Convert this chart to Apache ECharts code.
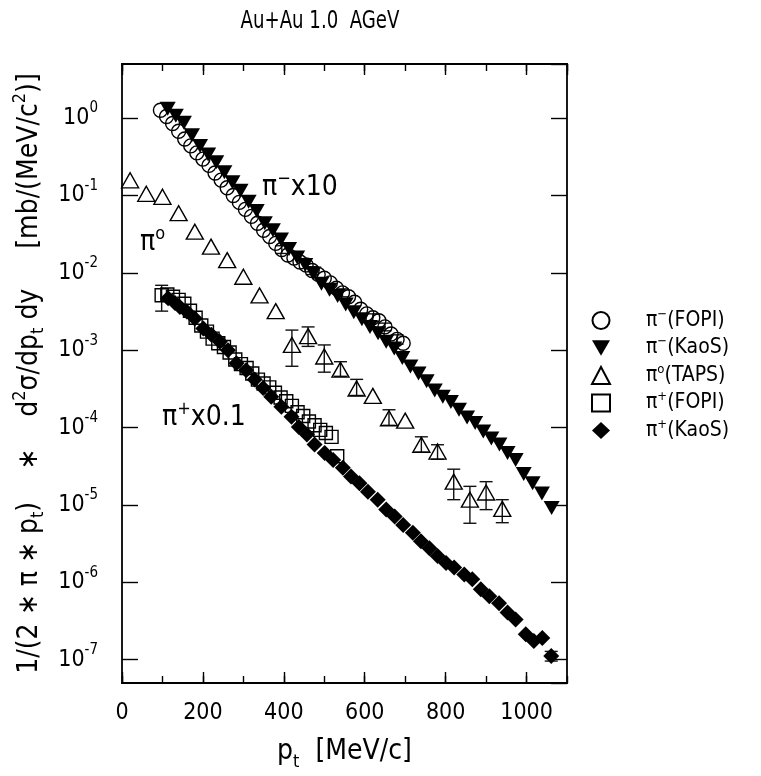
<!DOCTYPE html>
<html><head><meta charset="utf-8">
<script src="https://cdn.jsdelivr.net/npm/echarts@6/dist/echarts.min.js"></script>
<style>html,body{margin:0;padding:0;background:#fff}#c{width:761px;height:776px}</style>
</head><body><div id="c"></div>
<script>
const FONT = "'Liberation Sans Narrow','DejaVu Sans Condensed','Liberation Sans',sans-serif";

// ---- data (pt in MeV/c, yield) ----
const piMinusFopiX = [95,110,125,140,155,170,185,200,215,230,245,260,275,290,305,320,335,350,365,380,395,410,425,440,455,470,485,500,515,530,545,560,575,590,605,620,635,650,665,680,695];
const piMinusFopiY = [1.26,1.05,0.851,0.676,0.537,0.437,0.355,0.295,0.245,0.195,0.158,0.126,0.100,0.0813,0.0661,0.0537,0.0437,0.0355,0.0295,0.0240,0.0200,0.0170,0.0155,0.0138,0.0126,0.0107,0.00955,0.00851,0.00741,0.00631,0.00550,0.00490,0.00417,0.00339,0.00295,0.00263,0.00240,0.00200,0.00162,0.00138,0.00123];
const piMinusFopiErrX = [395,470,545,620,650,680];
const piMinusFopiErrLo = [0.0178,0.0095,0.0049,0.00234,0.00178,0.00120];
const piMinusFopiErrHi = [0.0224,0.0120,0.0062,0.00295,0.00224,0.00158];

const piMinusKaosX = [113,133,153,173,193,213,233,253,273,293,313,333,353,373,393,413,433,453,473,493,513,533,553,573,593,613,633,653,673,693,713,733,753,773,793,813,833,853,873,893,913,933,953,973,993,1015,1038,1062];
const piMinusKaosY = [1.32,1.07,0.87,0.60,0.437,0.339,0.269,0.200,0.148,0.115,0.0832,0.0631,0.0437,0.0355,0.0269,0.0204,0.0158,0.0126,0.00977,0.00724,0.00603,0.00501,0.00389,0.00309,0.00251,0.00200,0.00166,0.00129,0.00105,7.94e-4,6.17e-4,5.01e-4,3.98e-4,3.02e-4,2.51e-4,2.14e-4,1.70e-4,1.35e-4,1.15e-4,8.91e-5,7.24e-5,6.03e-5,4.68e-5,3.80e-5,2.51e-5,1.91e-5,1.41e-5,9.12e-6];

const pi0TapsX = [20,60,100,140,180,220,260,300,340,380,420,460,500,540,580,620,660,700,740,780,820,860,900,940];
const pi0TapsY = [0.157,0.105,0.096,0.059,0.034,0.0218,0.0146,8.9e-3,5.1e-3,3.2e-3,1.17e-3,1.52e-3,8.3e-4,5.6e-4,3.2e-4,2.57e-4,1.32e-4,1.23e-4,6.0e-5,4.9e-5,2.0e-5,1.17e-5,1.45e-5,8.9e-6];
const pi0TapsErrX = [420,460,500,540,580,660,740,780,820,860,900,940];
const pi0TapsErrLo = [6.2e-4,1.12e-3,5.2e-4,4.6e-4,2.6e-4,1.07e-4,4.8e-5,3.9e-5,1.17e-5,5.8e-6,8.7e-6,5.9e-6];
const pi0TapsErrHi = [1.82e-3,2.0e-3,1.17e-3,7.1e-4,4.2e-4,1.7e-4,7.6e-5,6.0e-5,2.9e-5,1.74e-5,2.0e-5,1.17e-5];

const piPlusFopiX = [98,112,126,140,154,168,182,196,210,224,238,252,266,280,294,308,322,336,350,364,378,392,406,420,434,448,462,476,490,504,518,532];
const piPlusFopiY = [5.13e-3,5.25e-3,4.90e-3,4.47e-3,3.98e-3,3.24e-3,2.63e-3,2.09e-3,1.74e-3,1.41e-3,1.23e-3,1.10e-3,9.33e-4,7.59e-4,6.61e-4,5.89e-4,5.01e-4,4.17e-4,3.72e-4,3.31e-4,2.82e-4,2.45e-4,2.19e-4,1.91e-4,1.58e-4,1.41e-4,1.20e-4,1.07e-4,9.33e-5,8.51e-5,7.59e-5,4.27e-5];
const piPlusFopiErrX = [98];
const piPlusFopiErrLo = [3.2e-3];
const piPlusFopiErrHi = [6.9e-3];

const piPlusKaosX = [114,131,143,160,180,201,221,242,262,283,307,328,349,369,394,419,437,457,476,501,522,546,566,587,608,632,653,674,695,719,739,760,780,801,821,846,866,887,908,932,953,973,998,1018,1039,1061];
const piPlusKaosY = [4.68e-3,4.07e-3,3.63e-3,3.16e-3,2.57e-3,1.91e-3,1.58e-3,1.29e-3,1.00e-3,6.76e-4,5.50e-4,4.17e-4,3.24e-4,2.51e-4,1.86e-4,1.38e-4,1.02e-4,8.13e-5,6.03e-5,4.68e-5,3.80e-5,3.02e-5,2.34e-5,1.91e-5,1.48e-5,1.17e-5,8.71e-6,7.08e-6,5.50e-6,4.37e-6,3.39e-6,2.75e-6,2.19e-6,1.78e-6,1.55e-6,1.26e-6,1.10e-6,8.13e-7,6.61e-7,5.37e-7,4.07e-7,3.31e-7,2.14e-7,1.74e-7,1.91e-7,1.12e-7];
const piPlusKaosErrX = [1061];
const piPlusKaosErrLo = [0.96e-7];
const piPlusKaosErrHi = [1.28e-7];

const xTickLabels = [0,200,400,600,800,1000];
const yTickExponents = [0,-1,-2,-3,-4,-5,-6,-7];

// ---- helpers ----
const zip = (xs, ys) => xs.map((x, i) => [x, ys[i]]);
const DOWN_TRI = 'path://M0,0L20,0L10,17.3Z';
const hollow = { color: 'rgba(255,255,255,0)', borderColor: '#000', borderWidth: 1.4, opacity: 1 };
const filled = { color: '#000', borderWidth: 0, opacity: 1 };

function errSeries(xs, lo, hi) {
  return {
    type: 'custom', xAxisIndex: 0, yAxisIndex: 0, silent: true, z: 1,
    data: xs.map((x, i) => [x, lo[i], hi[i]]),
    encode: { x: 0, y: [1, 2] },
    renderItem(params, api) {
      const p1 = api.coord([api.value(0), api.value(1)]);
      const p2 = api.coord([api.value(0), api.value(2)]);
      const w = 6.5;
      const st = { stroke: '#111', lineWidth: 1.4 };
      return { type: 'group', children: [
        { type: 'line', shape: { x1: p1[0], y1: p1[1], x2: p2[0], y2: p2[1] }, style: st },
        { type: 'line', shape: { x1: p1[0] - w, y1: p1[1], x2: p1[0] + w, y2: p1[1] }, style: st },
        { type: 'line', shape: { x1: p2[0] - w, y1: p2[1], x2: p2[0] + w, y2: p2[1] }, style: st }
      ]};
    }
  };
}

const legendRich = {
  'π⁻(FOPI)': '{t|π}{u|−}{t|(FOPI)}',
  'π⁻(KaoS)': '{t|π}{u|−}{t|(KaoS)}',
  'π°(TAPS)': '{t|π}{u|o}{t|(TAPS)}',
  'π⁺(FOPI)': '{t|π}{u|+}{t|(FOPI)}',
  'π⁺(KaoS)': '{t|π}{u|+}{t|(KaoS)}'
};

const axisLineStyle = { color: '#000', width: 1.8 };
function xAx(pos, interval, len, labels) {
  return {
    type: 'value', position: pos, min: 0, max: 1100, interval: interval,
    axisLine: { show: true, onZero: false, lineStyle: axisLineStyle },
    axisTick: { show: true, inside: true, length: len, lineStyle: { color: '#000', width: 1.4 } },
    axisLabel: labels ? {
      show: true, margin: 19, fontSize: 23, color: '#000', fontFamily: FONT,
      showMaxLabel: false,
      formatter: v => (xTickLabels.indexOf(v) >= 0 ? String(v) : '')
    } : { show: false },
    splitLine: { show: false }
  };
}
function yAx(pos, labels) {
  return {
    type: 'log', logBase: 10, position: pos, min: 5e-8, max: 5,
    axisLine: { show: true, onZero: false, lineStyle: axisLineStyle },
    axisTick: { show: true, inside: true, length: 16, lineStyle: { color: '#000', width: 1.4 } },
    axisLabel: labels ? {
      show: true, margin: 24, color: '#000', showMinLabel: false, showMaxLabel: false,
      formatter: v => {
        const e = Math.round(Math.log10(v));
        if (yTickExponents.indexOf(e) < 0) return '';
        return '{b|10}{e|' + (e < 0 ? '-' + (-e) : e) + '}';
      },
      rich: {
        b: { fontSize: 23, fontFamily: FONT, color: '#000', lineHeight: 34 },
        e: { fontSize: 15, fontFamily: FONT, color: '#000', lineHeight: 15, verticalAlign: 'top' }
      }
    } : { show: false },
    splitLine: { show: false }
  };
}

const chart = echarts.init(document.getElementById('c'), null, { renderer: 'canvas' });
const xAxes = [xAx('bottom', 200, 11, true), xAx('bottom', 100, 7, false), xAx('top', 200, 11, false), xAx('top', 100, 7, false)];
xAxes[0].name = '{a|p}{s|t}{a|  [MeV/c]}';
xAxes[0].nameLocation = 'middle';
xAxes[0].nameGap = 50;
xAxes[0].nameTextStyle = { rich: {
  a: { fontSize: 28, fontFamily: FONT, color: '#000', lineHeight: 38 },
  s: { fontSize: 18, fontFamily: FONT, color: '#000', lineHeight: 18, verticalAlign: 'bottom' }
}};
const yAxes = [yAx('left', true), yAx('right', false)];
yAxes[0].name = '{a|1/(2 ∗ π ∗ p}{s|t}{a|)    ∗    d}{u|2}{a|σ/dp}{s|t}{a| dy     [mb/(MeV/c}{u|2}{a|)]}';
yAxes[0].nameLocation = 'middle';
yAxes[0].nameRotate = 90;
yAxes[0].nameGap = 74;
yAxes[0].nameTextStyle = { rich: {
  a: { fontSize: 28, fontFamily: FONT, color: '#000', lineHeight: 36 },
  s: { fontSize: 18, fontFamily: FONT, color: '#000', lineHeight: 18, verticalAlign: 'bottom' },
  u: { fontSize: 18, fontFamily: FONT, color: '#000', lineHeight: 18, verticalAlign: 'top' }
}};

const annRich = {
  a: { fontSize: 28, fontFamily: FONT, color: '#000', lineHeight: 36 },
  u: { fontSize: 18, fontFamily: FONT, color: '#000', lineHeight: 18, verticalAlign: 'top' }
};

chart.setOption({
  animation: false,
  backgroundColor: '#fff',
  grid: { left: 122, right: 194, top: 64, bottom: 92, containLabel: false },
  xAxis: xAxes,
  yAxis: yAxes,
  legend: {
    orient: 'vertical', left: 586, top: 303, itemWidth: 18, itemHeight: 17, itemGap: 4.5,
    data: ['π⁻(FOPI)', 'π⁻(KaoS)', 'π°(TAPS)', 'π⁺(FOPI)', 'π⁺(KaoS)'],
    formatter: n => legendRich[n],
    textStyle: {
      padding: [0, 0, 0, 31],
      rich: {
        t: { fontSize: 21, fontFamily: FONT, color: '#000', lineHeight: 25 },
        u: { fontSize: 13, fontFamily: FONT, color: '#000', lineHeight: 13, verticalAlign: 'top' }
      }
    },
    selectedMode: false
  },
  graphic: [
    { type: 'text', x: 320, y: 22, scaleX: 0.84, style: { text: 'Au+Au 1.0  AGeV', font: '24px ' + FONT, fill: '#000', textAlign: 'center', textVerticalAlign: 'middle' } },
    { type: 'text', x: 262, y: 188, style: { text: '{a|π}{u|−}{a|x10}', rich: annRich, textVerticalAlign: 'middle' } },
    { type: 'text', x: 140, y: 243, style: { text: '{a|π}{u|o}', rich: annRich, textVerticalAlign: 'middle' } },
    { type: 'text', x: 162, y: 418, style: { text: '{a|π}{u|+}{a|x0.1}', rich: annRich, textVerticalAlign: 'middle' } }
  ],
  series: [
    errSeries(piMinusFopiErrX, piMinusFopiErrLo, piMinusFopiErrHi),
    errSeries(pi0TapsErrX, pi0TapsErrLo, pi0TapsErrHi),
    errSeries(piPlusFopiErrX, piPlusFopiErrLo, piPlusFopiErrHi),
    errSeries(piPlusKaosErrX, piPlusKaosErrLo, piPlusKaosErrHi),
    { name: 'π⁻(FOPI)', type: 'scatter', xAxisIndex: 0, yAxisIndex: 0, symbol: 'circle', symbolSize: 14, itemStyle: hollow, data: zip(piMinusFopiX, piMinusFopiY), z: 3 },
    { name: 'π⁻(KaoS)', type: 'scatter', xAxisIndex: 0, yAxisIndex: 0, symbol: DOWN_TRI, symbolSize: [16, 14], itemStyle: filled, data: zip(piMinusKaosX, piMinusKaosY), z: 4 },
    { name: 'π°(TAPS)', type: 'scatter', xAxisIndex: 0, yAxisIndex: 0, symbol: 'triangle', symbolSize: [17, 15], itemStyle: hollow, data: zip(pi0TapsX, pi0TapsY), z: 3 },
    { name: 'π⁺(FOPI)', type: 'scatter', xAxisIndex: 0, yAxisIndex: 0, symbol: 'rect', symbolSize: 13, itemStyle: hollow, data: zip(piPlusFopiX, piPlusFopiY), z: 3 },
    { name: 'π⁺(KaoS)', type: 'scatter', xAxisIndex: 0, yAxisIndex: 0, symbol: 'diamond', symbolSize: 16, itemStyle: filled, data: zip(piPlusKaosX, piPlusKaosY), z: 4 }
  ]
});
</script>
</body></html>
